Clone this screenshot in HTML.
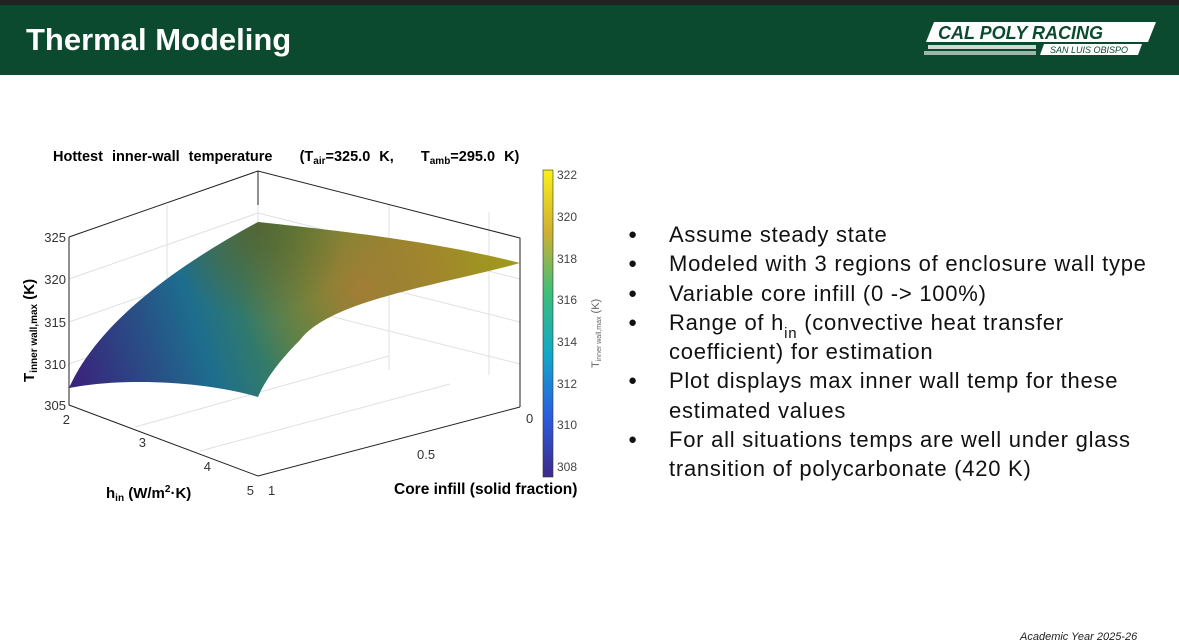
<!DOCTYPE html>
<html><head><style>
body{margin:0;width:1179px;height:638px;overflow:hidden;background:#fff;font-family:"Liberation Sans",sans-serif;position:relative}
.top{position:absolute;left:0;top:0;width:1179px;height:5px;background:#222}
.hdr{position:absolute;left:0;top:5px;width:1179px;height:70px;background:#0b4a2e}
.title{position:absolute;left:26px;top:22px;color:#fff;font-size:31px;font-weight:bold}
ul{position:absolute;left:628px;top:220px;margin:0;padding:0;list-style:none;font-size:22px;letter-spacing:0.75px;color:#111;line-height:29.3px}
li{position:relative;padding-left:41px;width:500px}
li:before{content:"●";position:absolute;left:0;font-size:15px;letter-spacing:0}
.sb{position:relative;top:8px;font-size:15px;line-height:0}
.foot{position:absolute;left:1020px;top:631px;font-size:11px;font-style:italic;color:#222}
</style></head><body>
<div class="top"></div><div class="hdr"></div>
<div class="title">Thermal Modeling</div>
<svg style="position:absolute;left:920px;top:18px" width="240" height="42">
<polygon points="14,4 236,4 228,24 6,24" fill="#fff"/>
<text x="18" y="21" font-size="18" font-weight="bold" font-style="italic" fill="#0b4a2e" font-family="Liberation Sans">CAL POLY RACING</text>
<polygon points="124,26 222,26 218,37 120,37" fill="#fff"/>
<text x="130" y="35" font-size="9" font-style="italic" fill="#0b4a2e">SAN LUIS OBISPO</text>
<g fill="#fff"><rect x="8" y="27" width="108" height="4" opacity=".8"/><rect x="4" y="33" width="112" height="4" opacity=".6"/></g>
</svg>
<ul>
<li>Assume steady state</li>
<li>Modeled with 3 regions of enclosure wall type</li>
<li>Variable core infill (0 -&gt; 100%)</li>
<li>Range of h<span class="sb">in</span> (convective heat transfer<br>coefficient) for estimation</li>
<li>Plot displays max inner wall temp for these estimated values</li>
<li>For all situations temps are well under glass transition of polycarbonate (420 K)</li>
</ul>
<div class="foot">Academic Year 2025-26</div>
<svg style="position:absolute;left:0;top:0" width="620" height="520" font-family="Liberation Sans">
<defs>
<linearGradient id="g1" x1="69" y1="390" x2="520" y2="250" gradientUnits="userSpaceOnUse">
<stop offset="0" stop-color="#3b1f7a"/><stop offset=".3" stop-color="#1d6e8e"/><stop offset=".55" stop-color="#4e8a3c"/><stop offset=".8" stop-color="#9a8a2a"/><stop offset="1" stop-color="#a39a1c"/></linearGradient>
<radialGradient id="g2" cx="360" cy="290" r="120" gradientUnits="userSpaceOnUse"><stop offset="0" stop-color="#b07a35" stop-opacity=".8"/><stop offset="1" stop-color="#b07a35" stop-opacity="0"/></radialGradient>
<radialGradient id="g3" cx="258" cy="230" r="90" gradientUnits="userSpaceOnUse"><stop offset="0" stop-color="#5a5a2a" stop-opacity=".7"/><stop offset="1" stop-color="#5a5a2a" stop-opacity="0"/></radialGradient>
<linearGradient id="cb" x1="0" y1="1" x2="0" y2="0"><stop offset="0" stop-color="#3d2a8a"/><stop offset=".2" stop-color="#2a5ee0"/><stop offset=".4" stop-color="#12a8c8"/><stop offset=".6" stop-color="#3cbf7a"/><stop offset=".8" stop-color="#d0b030"/><stop offset="1" stop-color="#f8f018"/></linearGradient>
</defs>
<text x="53" y="161" font-size="14.5" font-weight="bold" word-spacing="5">Hottest inner-wall temperature &#160; (T<tspan font-size="10" dy="3">air</tspan><tspan dy="-3">=325.0 K, &#160; T</tspan><tspan font-size="10" dy="3">amb</tspan><tspan dy="-3">=295.0 K)</tspan></text>
<g stroke="#e0e0e0" fill="none">
<line x1="167" y1="205" x2="167" y2="370"/><line x1="69" y1="237" x2="258" y2="171"/>
<line x1="389" y1="205" x2="389" y2="370"/><line x1="489" y1="212" x2="489" y2="375"/>
<line x1="69" y1="279" x2="258" y2="213"/><line x1="258" y1="213" x2="520" y2="279"/>
<line x1="69" y1="322" x2="258" y2="256"/><line x1="258" y1="256" x2="520" y2="322"/>
<line x1="69" y1="364" x2="258" y2="298"/><line x1="258" y1="298" x2="520" y2="364"/>
<line x1="135" y1="427" x2="389" y2="356"/><line x1="200" y1="451" x2="450" y2="384"/>
<line x1="258" y1="171" x2="258" y2="340"/>
</g>
<path d="M69,388 C95,330 160,275 258,222 C330,230 430,240 520,263 C440,285 330,300 300,340 C280,360 265,380 258,397 C200,380 120,378 69,388Z" fill="url(#g1)"/>
<path d="M69,388 C95,330 160,275 258,222 C330,230 430,240 520,263 C440,285 330,300 300,340 C280,360 265,380 258,397 C200,380 120,378 69,388Z" fill="url(#g2)"/>
<path d="M69,388 C95,330 160,275 258,222 C330,230 430,240 520,263 C440,285 330,300 300,340 C280,360 265,380 258,397 C200,380 120,378 69,388Z" fill="url(#g3)"/>
<g stroke="#222" fill="none" stroke-width="1">
<polyline points="69,237 258,171 520,238 520,407"/><line x1="258" y1="171" x2="258" y2="205"/>
<polyline points="69,237 69,405 258,476 520,407"/>
</g>
<g font-size="13" fill="#333" text-anchor="end">
<text x="66" y="242">325</text><text x="66" y="284">320</text><text x="66" y="327">315</text><text x="66" y="369">310</text><text x="66" y="410">305</text>
<text x="70" y="424">2</text><text x="146" y="447">3</text><text x="211" y="471">4</text><text x="254" y="495">5</text>
</g>
<g font-size="13" fill="#333"><text x="526" y="423">0</text><text x="417" y="459">0.5</text><text x="268" y="495">1</text></g>
<text x="106" y="498" font-size="15" font-weight="bold">h<tspan font-size="10" dy="3">in</tspan><tspan dy="-3"> (W/m</tspan><tspan font-size="10" dy="-6">2</tspan><tspan dy="6">·K)</tspan></text>
<text x="394" y="494" font-size="15.5" font-weight="bold">Core infill (solid fraction)</text>
<text transform="translate(34,382) rotate(-90)" font-size="15" font-weight="bold">T<tspan font-size="10" dy="3">inner wall,max</tspan><tspan dy="-3"> (K)</tspan></text>
<rect x="543" y="170" width="10" height="307" fill="url(#cb)" stroke="#333" stroke-width=".6"/>
<g font-size="12" fill="#444"><text x="557" y="179">322</text><text x="557" y="221">320</text><text x="557" y="263">318</text><text x="557" y="304">316</text><text x="557" y="346">314</text><text x="557" y="388">312</text><text x="557" y="429">310</text><text x="557" y="471">308</text></g>
<text transform="translate(599,368) rotate(-90)" font-size="11" fill="#666">T<tspan font-size="7" dy="2">inner wall,max</tspan><tspan dy="-2"> (K)</tspan></text>
</svg>
</body></html>
